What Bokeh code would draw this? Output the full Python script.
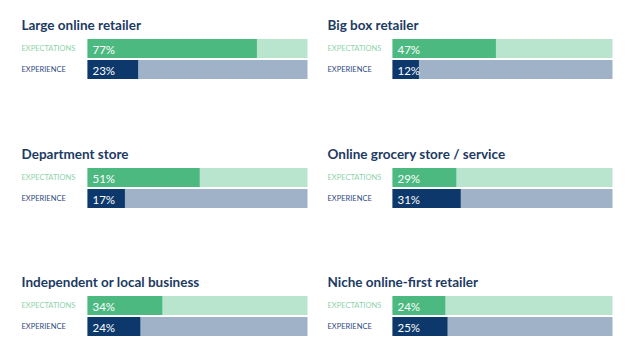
from bokeh.plotting import figure
from bokeh.layouts import row, column
from bokeh.models import Range1d
from bokeh.core.properties import value
from bokeh.embed import file_html
from bokeh.resources import INLINE

categories = ["Large online retailer", "Big box retailer", "Department store",
              "Online grocery store / service", "Independent or local business",
              "Niche online-first retailer"]
expectations = [77, 47, 51, 29, 34, 24]
experience = [23, 12, 17, 31, 24, 25]
series_labels = ["EXPECTATIONS", "EXPERIENCE"]

GREEN = "#4cb981"
GREEN_LIGHT = "#b9e5cf"
NAVY = "#0d386b"
NAVY_LIGHT = "#9fb2c8"
TITLE_C = "#1c3a63"
LBL_EXP_C = "#8ed3ac"
LBL_EXR_C = "#2d4b7e"
FONT = value("Lato")

PX_PER_UNIT = 2.2
PANEL_W = 312


def panel(title, e1, e2, col, h, y0):
    bar_off = 87 if col == 0 else 80          # px from panel left to bar start
    lbl_off = 21 if col == 0 else 15          # px from panel left to text start
    x_lo = -bar_off / PX_PER_UNIT
    x_hi = x_lo + PANEL_W / PX_PER_UNIT
    lx = x_lo + lbl_off / PX_PER_UNIT
    p = figure(width=PANEL_W, height=h, x_range=Range1d(x_lo, x_hi),
               y_range=Range1d(h, 0), output_backend="svg",
               toolbar_location=None, min_border=0)
    p.axis.visible = False
    p.grid.visible = False
    p.outline_line_color = None
    p.background_fill_color = "white"
    p.border_fill_color = "white"

    y1, y2, bh = y0 + 40, y0 + 61, 19
    # backgrounds (full 100%)
    p.hbar(y=[y1], left=0, right=100, height=bh, fill_color=GREEN_LIGHT, line_color=None)
    p.hbar(y=[y2], left=0, right=100, height=bh, fill_color=NAVY_LIGHT, line_color=None)
    # values
    p.hbar(y=[y1], left=0, right=[e1], height=bh, fill_color=GREEN, line_color=None)
    p.hbar(y=[y2], left=0, right=[e2], height=bh, fill_color=NAVY, line_color=None)

    p.text(x=[lx], y=[y0 + 16], text=[title], text_font=FONT, text_font_size="13.5px",
           text_font_style="bold", text_color=TITLE_C, text_baseline="middle")
    p.text(x=[lx], y=[y1], text=[series_labels[0]], text_font=FONT, text_font_size="7.5px",
           text_color=LBL_EXP_C, text_baseline="middle")
    p.text(x=[lx], y=[y2], text=[series_labels[1]], text_font=FONT, text_font_size="7.5px",
           text_color=LBL_EXR_C, text_baseline="middle")
    off = 5 / PX_PER_UNIT
    p.text(x=[off], y=[y1 + 1], text=[f"{e1}%"], text_font=FONT, text_font_size="11.5px",
           text_color="white", text_baseline="middle")
    p.text(x=[off], y=[y2 + 1], text=[f"{e2}%"], text_font=FONT, text_font_size="11.5px",
           text_color="white", text_baseline="middle")
    return p


heights = [136, 128, 94]
y_offsets = [8, 1, 1]
rows = []
for r in range(3):
    figs = []
    for c in range(2):
        i = r * 2 + c
        figs.append(panel(categories[i], expectations[i], experience[i], c,
                          heights[r], y_offsets[r]))
    rows.append(row(*figs))
layout = column(*rows)

open("out.html", "w").write(file_html(layout, INLINE))
